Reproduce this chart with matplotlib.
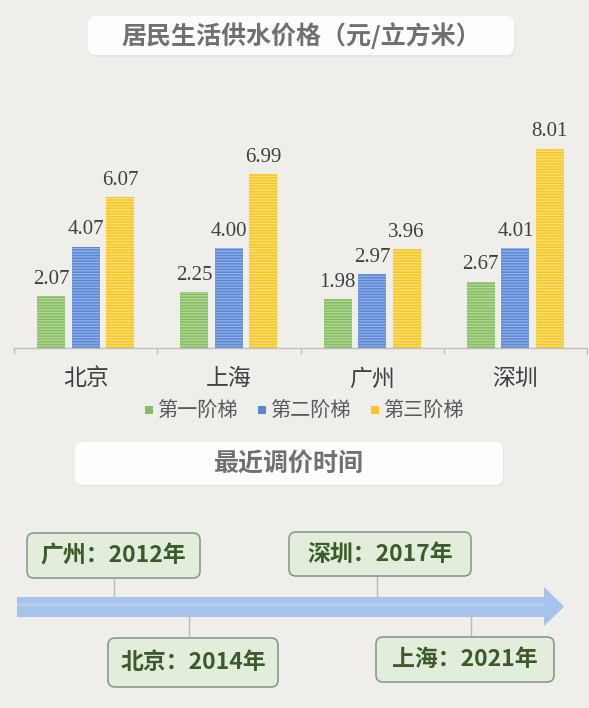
import matplotlib
matplotlib.use("Agg")
import matplotlib.pyplot as plt
from matplotlib.patches import FancyBboxPatch, Polygon, Rectangle

plt.rcParams['font.family'] = ['Noto Sans CJK SC', 'DejaVu Sans']
plt.rcParams['hatch.linewidth'] = 0.9

# ---------------- data ----------------
cities = ['北京', '上海', '广州', '深圳']
series_names = ['第一阶梯', '第二阶梯', '第三阶梯']
tier1 = [2.07, 2.25, 1.98, 2.67]
tier2 = [4.07, 4.00, 2.97, 4.01]
tier3 = [6.07, 6.99, 3.96, 8.01]
title_main = '居民生活供水价格（元/立方米）'
title_time = '最近调价时间'
timeline_cities = ['广州', '北京', '深圳', '上海']
timeline_years = [2012, 2014, 2017, 2021]

face_colors = ['#86bd62', '#5a86d4', '#f6c623']
stripe_colors = ['#b3d89a', '#93b1e8', '#fbe07c']
BG = '#efeeeb'

W, H = 589, 708
fig = plt.figure(figsize=(W / 100, H / 100), dpi=100, facecolor=BG)

# overlay axes in pixel coordinates
ov = fig.add_axes([0, 0, 1, 1], zorder=0)
ov.set_xlim(0, W)
ov.set_ylim(H, 0)
ov.axis('off')
ov.set_facecolor(BG)

def px_axes(left, top, right, bottom):
    return [left / W, 1 - bottom / H, (right - left) / W, (bottom - top) / H]

# ---------- title boxes ----------
def title_box(x0, y0, x1, y1, text):
    sh = FancyBboxPatch((x0 + 1, y0 + 2), x1 - x0, y1 - y0,
                        boxstyle='round,pad=0,rounding_size=8',
                        fc='#e6e5e2', ec='none', zorder=1)
    ov.add_patch(sh)
    bx = FancyBboxPatch((x0, y0), x1 - x0, y1 - y0,
                        boxstyle='round,pad=0,rounding_size=8',
                        fc='#fdfdfd', ec='none', zorder=2)
    ov.add_patch(bx)
    ov.text((x0 + x1) / 2, (y0 + y1) / 2, text, ha='center', va='center',
            fontsize=18, fontweight='bold', color='#707070', zorder=3)

title_box(88, 16, 514, 55, title_main)
title_box(75, 442, 503, 485, title_time)

# ---------- bar chart ----------
ax = fig.add_axes(px_axes(14, 99, 587, 348), zorder=2)
ax.set_facecolor('none')
x = list(range(len(cities)))
bw = 0.196
off = 0.241
for i, (vals, fc, sc) in enumerate(zip([tier1, tier2, tier3], face_colors, stripe_colors)):
    pos = [xi + (i - 1) * off for xi in x]
    bars = ax.bar(pos, vals, width=bw, color=fc, edgecolor=sc, linewidth=0,
                  hatch='------', label=series_names[i], zorder=2)
    for b, v in zip(bars, vals):
        ax.annotate(f'{v:.2f}', (b.get_x() + b.get_width() / 2, v),
                    xytext=(0, 12), textcoords='offset points',
                    ha='center', va='center', fontsize=15,
                    family=['Liberation Serif', 'DejaVu Serif'], color='#404040')

ax.set_xlim(-0.5, len(cities) - 0.5)
ax.set_ylim(0, 10)
for s in ['top', 'right', 'left']:
    ax.spines[s].set_visible(False)
ax.spines['bottom'].set_color('#bfbfbf')
ax.spines['bottom'].set_linewidth(1.0)
ax.set_yticks([])
ax.set_xticks(x)
ax.set_xticklabels(cities, fontsize=16.5, color='#404040')
ax.tick_params(axis='x', which='major', length=0, pad=14)
ax.set_xticks([xi - 0.5 for xi in x] + [len(cities) - 0.5], minor=True)
ax.tick_params(axis='x', which='minor', length=4, color='#bfbfbf', width=1)

# legend (manual)
leg_x = [145, 258, 371]
for lx, fc, name in zip(leg_x, face_colors, series_names):
    ov.add_patch(Rectangle((lx, 406), 8, 8, fc=fc, ec='none', zorder=3))
    ov.text(lx + 12, 410.5, name, ha='left', va='center', fontsize=14.5,
            color='#595959', zorder=3)

# ---------- timeline ----------
arrow = Polygon([(17, 597), (544, 597), (544, 587), (564, 606.5),
                 (544, 626), (544, 617), (17, 617)],
                closed=True, fc='#a6c3ea', ec='none', zorder=2)
ov.add_patch(arrow)
ov.add_patch(Rectangle((17, 603), 527, 4, fc='#b0cbee', ec='none', zorder=2))

# box layout (pixel positions): (x0, y0, x1, y1, connector_x, above)
boxes = [(27, 533, 200, 578, 114, True),
         (108, 638, 278, 687, 189, False),
         (289, 532, 471, 576, 377, True),
         (376, 637, 554, 682, 471, False)]
for (x0, y0, x1, y1, cx, above), c, yr in zip(boxes, timeline_cities, timeline_years):
    if above:
        ov.plot([cx, cx], [y1, 597], color='#b4bdb8', lw=1, zorder=1)
    else:
        ov.plot([cx, cx], [617, y0], color='#b4bdb8', lw=1, zorder=1)
    bx = FancyBboxPatch((x0, y0), x1 - x0, y1 - y0,
                        boxstyle='round,pad=0,rounding_size=7',
                        fc='#e2eedb', ec='#869c8e', lw=1.2, zorder=3)
    ov.add_patch(bx)
    ov.text((x0 + x1) / 2, (y0 + y1) / 2, f'{c}：{yr}年', ha='center', va='center',
            fontsize=16.5, fontweight='bold', color='#3c5a2a', zorder=4)

fig.savefig('out.png', dpi=100, facecolor=BG)
